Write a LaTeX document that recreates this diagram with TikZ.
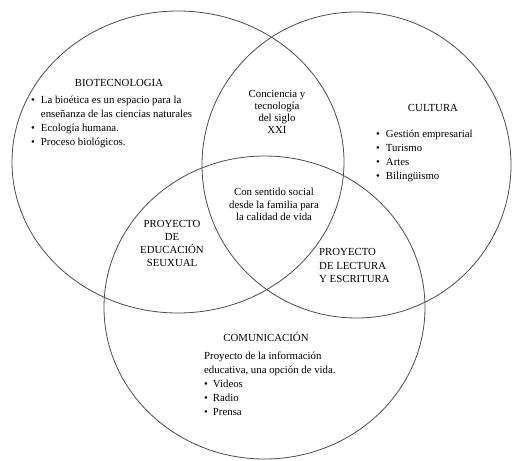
\documentclass[tikz,border=0pt]{standalone}
\usepackage{fontspec}
\setmainfont{Liberation Serif}
\newfontfamily\tnr{Liberation Serif}
\begin{document}
\begin{tikzpicture}[x=1pt,y=-1pt,
  venn/.style={draw=black!70, line width=0.8pt},
  txt/.style={inner sep=0pt, font=\tnr\fontsize{10.8}{13}\selectfont},
  tight/.style={inner sep=0pt, font=\tnr\fontsize{10.8}{12}\selectfont}]
\useasboundingbox[fill=white] (0,0) rectangle (512,461);
% circles
\draw[venn] (178,162) ellipse [x radius=166, y radius=151];
\draw[venn] (356.5,165) ellipse [x radius=154.5, y radius=153];
\draw[venn] (264.5,307.5) ellipse [x radius=160.5, y radius=151.5];
% BIOTECNOLOGIA
\node[txt, anchor=base] (bioT) at (119,86) {BIOTECNOLOGIA};
\node[txt, anchor=north west, font=\tnr\fontsize{10.8}{14}\selectfont] (bioL) at (31,93.5)
 {\begin{tabular}{@{}l@{\hspace{6pt}}l@{}}
  \textbullet & La bioética es un espacio para la\\
              & enseñanza de las ciencias naturales\\
  \textbullet & Ecología humana.\\
  \textbullet & Proceso biológicos.
 \end{tabular}};
% CULTURA
\node[txt, anchor=base] (culT) at (433,111) {CULTURA};
\node[txt, anchor=north west, font=\tnr\fontsize{10.8}{14}\selectfont] (culL) at (376,127)
 {\begin{tabular}{@{}l@{\hspace{6pt}}l@{}}
  \textbullet & Gestión empresarial\\
  \textbullet & Turismo\\
  \textbullet & Artes\\
  \textbullet & Bilingüismo
 \end{tabular}};
% COMUNICACION
\node[txt, anchor=base] (comT) at (266,341) {COMUNICACIÓN};
\node[txt, anchor=north west, font=\tnr\fontsize{10.8}{14}\selectfont] (comL) at (204,349.5)
 {\begin{tabular}{@{}l@{\hspace{5pt}}l@{}}
  \multicolumn{2}{@{}l@{}}{Proyecto de la información}\\
  \multicolumn{2}{@{}l@{}}{educativa, una opción de vida.}\\
  \textbullet & Videos\\
  \textbullet & Radio\\
  \textbullet & Prensa
 \end{tabular}};
% intersections
\node[tight, anchor=north, align=center] (cyt) at (277,90)
 {Conciencia y\\tecnología\\del siglo\\XXI};
\node[tight, anchor=north, align=center, font=\tnr\fontsize{10.8}{12.5}\selectfont] (csf) at (274,188)
 {Con sentido social\\desde la familia para\\la calidad de vida};
\node[txt, anchor=north, align=center] (pes) at (172,220.5)
 {PROYECTO\\DE\\EDUCACIÓN\\SEUXUAL};
\node[txt, anchor=north west, align=left, font=\tnr\fontsize{10.8}{13.5}\selectfont] (ple) at (319,248.5)
 {PROYECTO\\DE LECTURA\\Y ESCRITURA};
\end{tikzpicture}
\end{document}
